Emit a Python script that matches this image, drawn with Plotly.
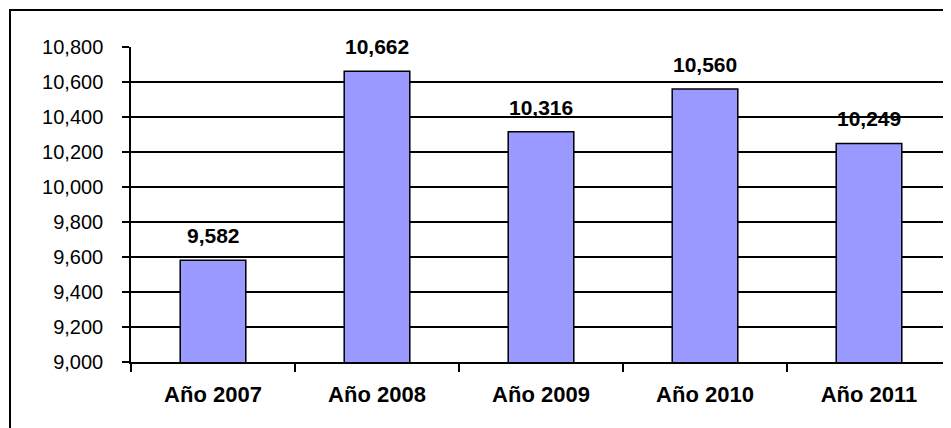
import plotly.graph_objects as go

categories = ["Año 2007", "Año 2008", "Año 2009", "Año 2010", "Año 2011"]
values = [9582, 10662, 10316, 10560, 10249]
y_ticks = [9000, 9200, 9400, 9600, 9800, 10000, 10200, 10400, 10600, 10800]
y_tick_labels = [f"{v:,}" for v in y_ticks]

FONT = "Liberation Sans, Arial, sans-serif"
OFF = 8  # page body margin
W, H = 951 - OFF, 428 - OFF
L, R, T, B = 131 - OFF, 0, 47 - OFF, 66

fig = go.Figure()
fig.add_trace(go.Bar(
    x=categories, y=values,
    marker=dict(color="#9999FF", line=dict(color="#000000", width=1.5)),
    width=0.4,
    hoverinfo="skip",
))

for c, v in zip(categories, values):
    fig.add_annotation(x=c, y=v, text=f"<b>{v:,}</b>", showarrow=False,
                       yanchor="bottom", yshift=11,
                       font=dict(family=FONT, size=21, color="#000000"))

pw = W - L - R
ph = H - T - B
bx0, by0 = 10 - OFF, 10 - OFF
fig.add_shape(type="rect", xref="paper", yref="paper",
              x0=(bx0 - L) / pw, x1=(W + 10 - L) / pw,
              y0=-(H + 10 - T - ph) / ph, y1=1 + (T - by0) / ph,
              line=dict(color="#000000", width=2), layer="below")

fig.update_layout(
    width=W, height=H,
    margin=dict(l=L, r=R, t=T, b=B, pad=0),
    paper_bgcolor="#FFFFFF", plot_bgcolor="#FFFFFF",
    showlegend=False,
    font=dict(family=FONT, size=20, color="#000000"),
    xaxis=dict(
        type="category", tickson="boundaries", ticks="outside", ticklen=8,
        tickwidth=1.5, tickcolor="#000000",
        showline=True, linecolor="#000000", linewidth=2,
        showgrid=False, tickfont=dict(family=FONT, size=22, color="#000000"),
        ticklabelstandoff=12,
        tickvals=categories, ticktext=[f"<b>{c}</b>" for c in categories],
        range=[-0.5, 4.5],
    ),
    yaxis=dict(
        range=[9000, 10800], tickvals=y_ticks, ticktext=y_tick_labels,
        ticks="outside", ticklen=7, tickwidth=1.5, tickcolor="#000000",
        showline=True, linecolor="#000000", linewidth=1.5,
        showgrid=True, gridcolor="#000000", gridwidth=1.5,
        zeroline=False, tickfont=dict(family=FONT, size=20, color="#000000"),
        ticklabelstandoff=15,
    ),
)

fig.write_html("out.html")
